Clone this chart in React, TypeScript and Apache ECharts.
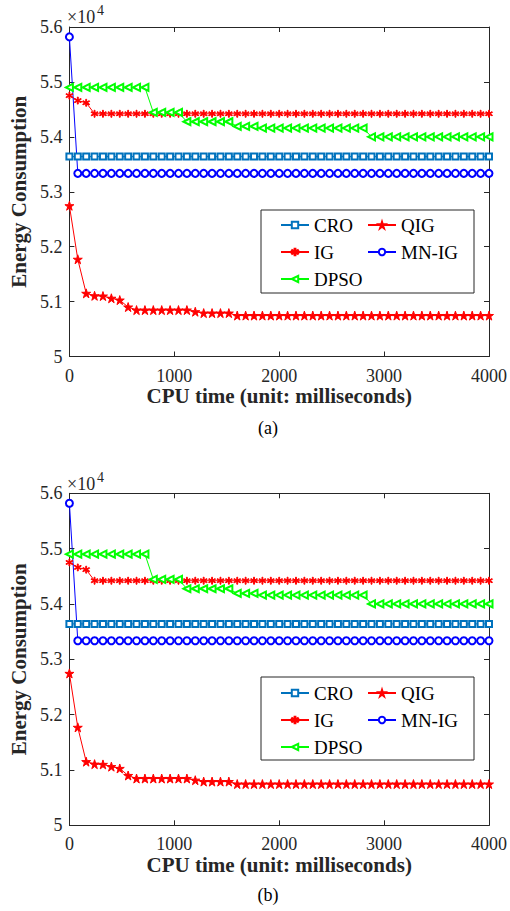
import React, { useEffect, useRef } from "react";
import * as echarts from "echarts";

// CPU time (ms) sample points
const timeMs = [
  0, 80, 160, 240, 320, 400, 480, 560, 640, 720,
  800, 880, 960, 1040, 1120, 1200, 1280, 1360, 1440, 1520,
  1600, 1680, 1760, 1840, 1920, 2000, 2080, 2160, 2240, 2320,
  2400, 2480, 2560, 2640, 2720, 2800, 2880, 2960, 3040, 3120,
  3200, 3280, 3360, 3440, 3520, 3600, 3680, 3760, 3840, 3920,
  4000,
];

const croValues = [
  53640, 53640, 53640, 53640, 53640, 53640, 53640, 53640, 53640, 53640,
  53640, 53640, 53640, 53640, 53640, 53640, 53640, 53640, 53640, 53640,
  53640, 53640, 53640, 53640, 53640, 53640, 53640, 53640, 53640, 53640,
  53640, 53640, 53640, 53640, 53640, 53640, 53640, 53640, 53640, 53640,
  53640, 53640, 53640, 53640, 53640, 53640, 53640, 53640, 53640, 53640,
  53640,
];

const qigValues = [
  52745, 51770, 51150, 51105, 51100, 51060, 51027, 50900, 50845, 50845,
  50845, 50845, 50845, 50845, 50845, 50815, 50790, 50790, 50790, 50790,
  50745, 50745, 50745, 50745, 50745, 50745, 50745, 50745, 50745, 50745,
  50745, 50745, 50745, 50745, 50745, 50745, 50745, 50745, 50745, 50745,
  50745, 50745, 50745, 50745, 50745, 50745, 50745, 50745, 50745, 50745,
  50745,
];

const igValues = [
  54750, 54660, 54620, 54420, 54420, 54420, 54420, 54420, 54420, 54420,
  54420, 54420, 54420, 54420, 54420, 54420, 54420, 54420, 54420, 54420,
  54420, 54420, 54420, 54420, 54420, 54420, 54420, 54420, 54420, 54420,
  54420, 54420, 54420, 54420, 54420, 54420, 54420, 54420, 54420, 54420,
  54420, 54420, 54420, 54420, 54420, 54420, 54420, 54420, 54420, 54420,
  54420,
];

const mnigValues = [
  55820, 53335, 53335, 53335, 53335, 53335, 53335, 53335, 53335, 53335,
  53335, 53335, 53335, 53335, 53335, 53335, 53335, 53335, 53335, 53335,
  53335, 53335, 53335, 53335, 53335, 53335, 53335, 53335, 53335, 53335,
  53335, 53335, 53335, 53335, 53335, 53335, 53335, 53335, 53335, 53335,
  53335, 53335, 53335, 53335, 53335, 53335, 53335, 53335, 53335, 53335,
  53335,
];

const dpsoValues = [
  54900, 54900, 54900, 54900, 54900, 54900, 54900, 54900, 54900, 54900,
  54445, 54445, 54445, 54445, 54275, 54275, 54275, 54275, 54275, 54275,
  54190, 54190, 54190, 54160, 54160, 54160, 54160, 54160, 54160, 54160,
  54160, 54160, 54160, 54160, 54160, 54160, 54000, 54000, 54000, 54000,
  54000, 54000, 54000, 54000, 54000, 54000, 54000, 54000, 54000, 54000,
  54000,
];

const xTicks = { min: 0, max: 4000, interval: 1000 };
const yTicks = { min: 50000, max: 56000, interval: 1000 };
const captions = ["(a)", "(b)"];

const STAR =
  "path://M0,-1L0.2245,-0.309L0.951,-0.309L0.363,0.118L0.588,0.809L0,0.382L-0.588,0.809L-0.363,0.118L-0.951,-0.309L-0.2245,-0.309Z";
const ASTERISK =
  "path://M0.12,1L-0.12,1L-0.12,-1L0.12,-1Z M0.926,0.396L0.806,0.604L-0.926,-0.396L-0.806,-0.604Z M-0.806,0.604L-0.926,0.396L0.806,-0.604L0.926,-0.396Z";

const FONT = "Liberation Serif";
const AX = "#262626";

const seriesDefs = [
  { name: "CRO", values: croValues, color: "#0072BD", symbol: "emptyRect", size: 6, rotate: 0 },
  { name: "QIG", values: qigValues, color: "#FF0000", symbol: STAR, size: 9, rotate: 0 },
  { name: "IG", values: igValues, color: "#FF0000", symbol: ASTERISK, size: 7, rotate: 0 },
  { name: "MN-IG", values: mnigValues, color: "#0000FF", symbol: "emptyCircle", size: 7, rotate: 0 },
  { name: "DPSO", values: dpsoValues, color: "#00FF00", symbol: "emptyTriangle", size: 7, rotate: 90 },
];

const panels = [
  { top: 27, height: 329.5, legendTop: 215.5, boxTop: 210, expY: 16.5, supY: 10, capY: 428 },
  { top: 493.3, height: 332, legendTop: 683.5, boxTop: 677, expY: 484, supY: 477.5, capY: 895 },
];

function buildOption() {
  const grid: any[] = [];
  const xAxis: any[] = [];
  const yAxis: any[] = [];
  const series: any[] = [];
  const legend: any[] = [];
  const graphic: any[] = [];

  const lineStyle = { color: AX, width: 1 };

  panels.forEach((p, i) => {
    grid.push({ left: 65, top: p.top, width: 425, height: p.height });
    const baseX = {
      type: "value",
      gridIndex: i,
      ...xTicks,
      splitLine: { show: false },
      axisLine: { show: true, onZero: false, lineStyle },
      axisTick: { show: true, inside: true, length: 5, lineStyle },
    };
    xAxis.push({
      ...baseX,
      position: "bottom",
      axisLabel: {
        fontFamily: FONT,
        fontSize: 18,
        color: AX,
        margin: 10,
        formatter: (v: number) => String(v),
      },
      name: "CPU time (unit: milliseconds)",
      nameLocation: "middle",
      nameGap: 26,
      nameTextStyle: { fontFamily: FONT, fontSize: 21, fontWeight: "bold", color: AX },
    });
    xAxis.push({ ...baseX, position: "top", axisLabel: { show: false } });
    const baseY = {
      type: "value",
      gridIndex: i,
      ...yTicks,
      splitLine: { show: false },
      axisLine: { show: true, onZero: false, lineStyle },
      axisTick: { show: true, inside: true, length: 5, lineStyle },
    };
    yAxis.push({
      ...baseY,
      position: "left",
      axisLabel: {
        fontFamily: FONT,
        fontSize: 18,
        color: AX,
        margin: 7,
        formatter: (v: number) => String(Math.round(v / 100) / 100),
      },
      name: "Energy Consumption",
      nameLocation: "middle",
      nameGap: 36,
      nameTextStyle: { fontFamily: FONT, fontSize: 21, fontWeight: "bold", color: AX },
    });
    yAxis.push({ ...baseY, position: "right", axisLabel: { show: false } });

    seriesDefs.forEach((s) => {
      series.push({
        type: "line",
        name: s.name,
        xAxisIndex: 2 * i,
        yAxisIndex: 2 * i,
        data: timeMs.map((t, k) => [t, s.values[k]]),
        symbol: s.symbol,
        symbolSize: s.size,
        symbolRotate: s.rotate,
        showSymbol: true,
        showAllSymbol: true,
        lineStyle: { color: s.color, width: 1 },
        itemStyle: { color: s.color, borderColor: s.color, borderWidth: 1 },
        emphasis: { disabled: true },
        silent: true,
      });
    });

    const legendBase = {
      orient: "vertical",
      top: p.legendTop,
      itemWidth: 28,
      itemHeight: 8,
      itemGap: 8,
      padding: 0,
      z: 10,
      selectedMode: false,
      textStyle: { fontFamily: FONT, fontSize: 19, color: "#000" },
    };
    legend.push({ ...legendBase, left: 280, data: ["CRO", "IG", "DPSO"] });
    legend.push({ ...legendBase, left: 367, data: ["QIG", "MN-IG"] });

    graphic.push({
      type: "rect",
      shape: { x: 261, y: p.boxTop, width: 213, height: 83 },
      style: { fill: "#fff", stroke: AX, lineWidth: 1 },
      z: 5,
      silent: true,
    });
    graphic.push({
      type: "text",
      x: 67,
      y: p.expY,
      style: { text: "×10", font: `18px "${FONT}"`, fill: AX, textVerticalAlign: "middle" },
      silent: true,
    });
    graphic.push({
      type: "text",
      x: 97,
      y: p.supY,
      style: { text: "4", font: `14px "${FONT}"`, fill: AX, textVerticalAlign: "middle" },
      silent: true,
    });
    graphic.push({
      type: "text",
      x: 268,
      y: p.capY,
      style: {
        text: captions[i],
        font: `18px "${FONT}"`,
        fill: "#000",
        textAlign: "center",
        textVerticalAlign: "middle",
      },
      silent: true,
    });
  });

  return {
    animation: false,
    backgroundColor: "#fff",
    grid,
    xAxis,
    yAxis,
    series,
    legend,
    graphic,
  };
}

export default function App() {
  const ref = useRef<HTMLDivElement>(null);
  useEffect(() => {
    document.body.style.margin = "0";
    const chart = echarts.init(ref.current!, null, { renderer: "svg" });
    chart.setOption(buildOption() as any);
    return () => chart.dispose();
  }, []);
  return <div ref={ref} style={{ width: 510, height: 911 }} />;
}
